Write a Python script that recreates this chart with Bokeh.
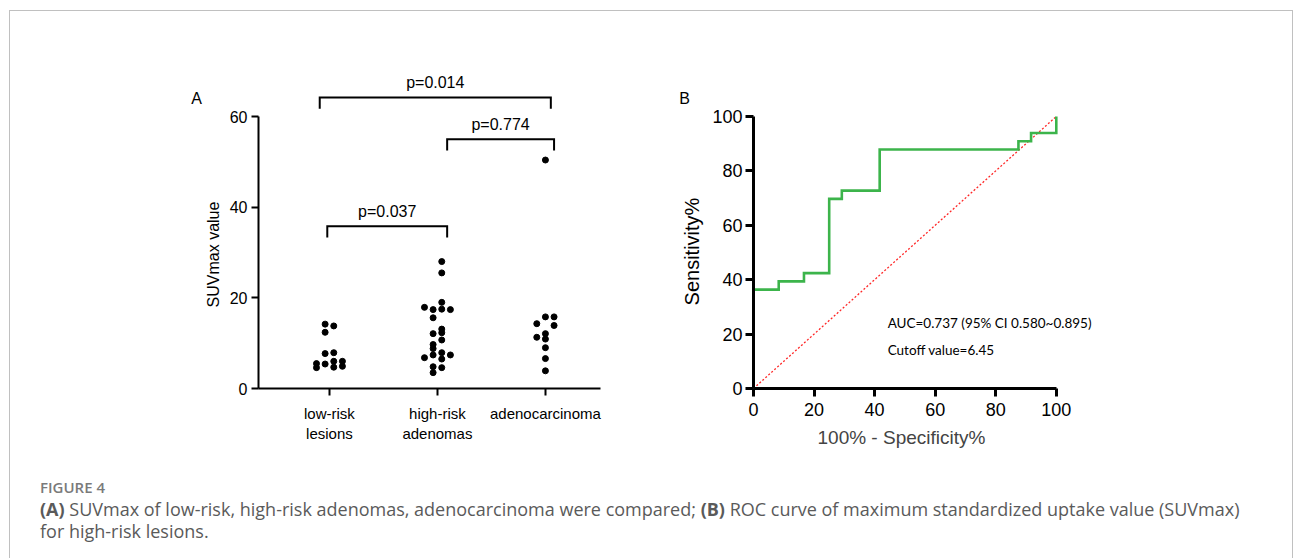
import math
from bokeh.plotting import figure
from bokeh.layouts import row, column
from bokeh.models import FixedTicker, ColumnDataSource, Range1d, Div, Title
from bokeh.core.properties import value
from bokeh.embed import file_html
from bokeh.resources import INLINE

# ---------------- data ----------------
categories = ["low-risk\nlesions", "high-risk\nadenomas", "adenocarcinoma"]
low_risk = [14.2, 13.8, 12.4, 7.7, 7.9, 5.5, 5.4, 6.0, 6.0, 4.6, 4.7, 4.9]
high_risk = [28.0, 25.5, 19.0, 17.9, 17.4, 17.5, 17.4, 15.6, 13.1, 12.3, 12.1,
             10.7, 9.7, 8.8, 7.9, 7.4, 7.4, 6.8, 6.5, 4.8, 4.6, 3.5]
adenocarcinoma = [50.4, 15.8, 15.8, 14.3, 13.9, 12.1, 11.3, 10.9, 9.0, 6.6, 3.9]
# swarm column of each dot
low_slot = [-0.5, 0.5, -0.5, -0.5, 0.5, -1.5, -0.5, 0.5, 1.5, -1.5, 0.5, 1.5]
high_slot = [0.5, 0.5, 0.5, -1.5, -0.5, 0.5, 1.5, -0.5, 0.5, 0.5, -0.5,
             0.5, -0.5, -0.5, 0.5, 1.5, -0.5, -1.5, 0.5, -0.5, 0.5, -0.5]
adeno_slot = [0, 0, 1, -1, 1, 0, -1, 0, 0, 0, 0]

p_labels = ["p=0.014", "p=0.774", "p=0.037"]
pairs = [(1, 3), (2, 3), (1, 2)]

roc_fpr = [0, 0, 8.33, 16.67, 25.0, 29.17, 41.67, 87.5, 91.67, 100, 100]
roc_tpr = [0, 36.36, 39.39, 42.42, 69.70, 72.73, 87.88, 90.91, 93.94, 93.94, 100]
auc_text = "AUC=0.737 (95% CI  0.580~0.895)"
cutoff_text = "Cutoff value=6.45"

caption_title = "FIGURE 4"
caption_A = "SUVmax of low-risk, high-risk adenomas, adenocarcinoma were compared;"
caption_B = "ROC curve of maximum standardized uptake value (SUVmax)"
caption_end = "for high-risk lesions."

# ---------------- layout constants ----------------
FONT = "Liberation Sans"
SLOT = 0.08
bracket_x0 = [0.91, 2.09, 0.98]
bracket_x1 = [3.05, 3.08, 2.09]
bracket_top = [64.2, 55.0, 35.8]
DROP = 2.5
H = 455
TOP = 59
BOT = 78


def base(width, **kw):
    p = figure(width=width, height=H, output_backend="svg", toolbar_location=None,
               min_border_top=TOP, min_border_bottom=BOT, **kw)
    p.outline_line_color = None
    p.grid.visible = False
    return p


def style_axes(p, lw, tick_out, size):
    for ax in (p.xaxis, p.yaxis):
        ax.axis_line_width = lw
        ax.axis_line_color = "black"
        ax.major_tick_line_width = lw
        ax.major_tick_line_color = "black"
        ax.major_tick_out = tick_out
        ax.major_tick_in = 0
        ax.minor_tick_line_color = None
        ax.major_label_text_font = FONT
        ax.major_label_text_font_size = size
        ax.major_label_text_color = "black"


# ---------------- side label strips ----------------
labA = base(215, x_range=Range1d(10, 225), y_range=Range1d(388, 70),
            x_axis_type=None, y_axis_type=None, min_border_left=0, min_border_right=0)
labA.text(x=[196], y=[98], text=["A"], text_font=value(FONT), text_font_size="16px",
          text_align="center", text_baseline="middle", text_color="black")
labA.text(x=[213], y=[254], text=["SUVmax value"], angle=math.pi / 2,
          text_font=value(FONT), text_font_size="16px",
          text_align="center", text_baseline="middle", text_color="black")

labB = base(35, x_range=Range1d(670, 705), y_range=Range1d(388, 70),
            x_axis_type=None, y_axis_type=None, min_border_left=0, min_border_right=0)
labB.text(x=[684], y=[98], text=["B"], text_font=value(FONT), text_font_size="16px",
          text_align="center", text_baseline="middle", text_color="black")
labB.text(x=[691], y=[251], text=["Sensitivity%"], angle=math.pi / 2,
          text_font=value(FONT), text_font_size="20px",
          text_align="center", text_baseline="middle", text_color="black")

# ---------------- panel A ----------------
pA = base(445, x_range=Range1d(0.343, 3.51), y_range=Range1d(0, 70.15),
          min_border_left=33, min_border_right=70)
style_axes(pA, 2, 7, "15px")
pA.yaxis.major_label_text_font_size = "16px"
pA.yaxis.ticker = FixedTicker(ticks=[0, 20, 40, 60])
pA.yaxis.bounds = (0, 60)
pA.yaxis.major_label_standoff = 4
pA.xaxis.ticker = FixedTicker(ticks=[1, 2, 3])
pA.xaxis.major_label_overrides = {i + 1: c for i, c in enumerate(categories)}
pA.xaxis.major_label_standoff = 9

xs, ys = [], []
for gi, (vals, slots) in enumerate([(low_risk, low_slot), (high_risk, high_slot),
                                    (adenocarcinoma, adeno_slot)]):
    for v, s in zip(vals, slots):
        xs.append(gi + 1 + s * SLOT)
        ys.append(v)
pA.scatter(x=xs, y=ys, size=6, color="black")

bxs, bys, tx, ty = [], [], [], []
for x0, x1, top in zip(bracket_x0, bracket_x1, bracket_top):
    bxs.append([x0, x0, x1, x1])
    bys.append([top - DROP, top, top, top - DROP])
    tx.append((x0 + x1) / 2)
    ty.append(top + 3.3)
pA.multi_line(xs=bxs, ys=bys, line_color="black", line_width=2, line_join="miter")
pA.text(x=tx, y=ty, text=p_labels, text_font=value(FONT), text_font_size="16px",
        text_align="center", text_baseline="middle", text_color="black")

# ---------------- panel B ----------------
pB = base(587, x_range=Range1d(0, 114.6), y_range=Range1d(0, 116.9),
          min_border_left=48, min_border_right=192)
style_axes(pB, 3, 8, "18px")
pB.xaxis.ticker = FixedTicker(ticks=[0, 20, 40, 60, 80, 100])
pB.yaxis.ticker = FixedTicker(ticks=[0, 20, 40, 60, 80, 100])
pB.xaxis.bounds = (0, 100)
pB.yaxis.bounds = (0, 100)
pB.xaxis.major_label_standoff = 6
pB.yaxis.major_label_standoff = 3

pB.line(x=[0, 100], y=[0, 100], line_color="#ff2626", line_width=1.3, line_dash="2 2")

sx, sy = [roc_fpr[0]], [roc_tpr[0]]
for i in range(1, len(roc_fpr)):
    sx += [roc_fpr[i], roc_fpr[i]]
    sy += [roc_tpr[i - 1], roc_tpr[i]]
pB.line(x=sx, y=sy, line_color="#3cb44b", line_width=2.6, line_join="miter")

pB.text(x=[44.3, 44.3], y=[24.0, 14.2], text=[auc_text, cutoff_text],
        text_font=value("Lato"), text_font_size="13.5px",
        text_align="left", text_baseline="middle", text_color="black")

pB.add_layout(Title(text="100% - Specificity%", align="left", offset=64,
                    text_font=FONT, text_font_size="19px", text_font_style="normal",
                    standoff=12), "below")

# ---------------- caption ----------------
cap_html = (
    '<div style="font-family:\'Open Sans\';padding-left:30px;">'
    '<div style="font-size:15px;font-weight:600;color:#7a7a7a;line-height:22px;margin-top:10px;">'
    + caption_title + '</div>'
    '<div style="font-size:18px;color:#5a5a5a;line-height:22px;white-space:nowrap;">'
    '<b>(A)</b> ' + caption_A + ' <b>(B)</b> ' + caption_B + '<br>' + caption_end +
    '</div></div>'
)
cap = Div(text=cap_html, width=1282, height=92, margin=(0, 0, 0, 0))

layout = column(row(labA, pA, labB, pB), cap, margin=(10, 0, 0, 9),
                styles={"border-left": "1px solid #c0c0c0", "border-top": "1px solid #c0c0c0",
                        "border-right": "1px solid #c0c0c0"})

open("out.html", "w").write(file_html(layout, INLINE))
